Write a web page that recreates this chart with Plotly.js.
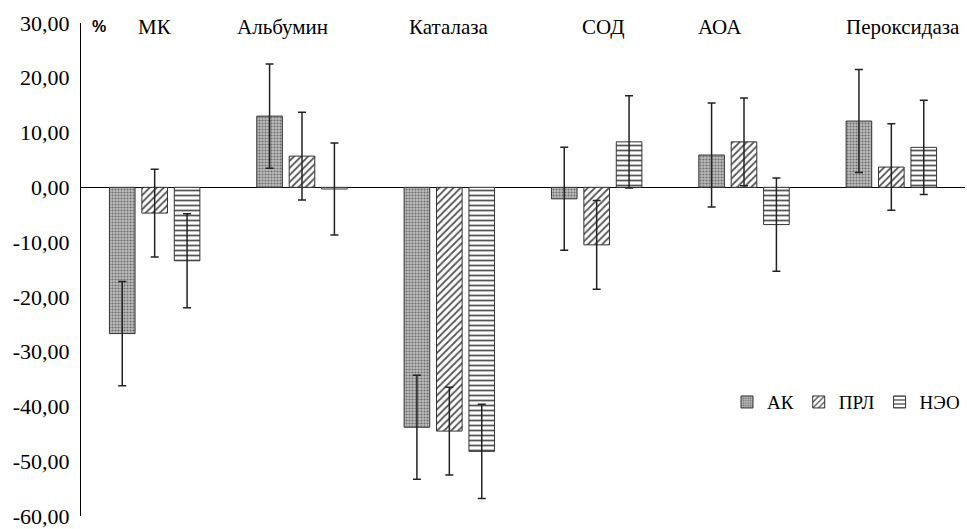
<!DOCTYPE html>
<html>
<head>
<meta charset="utf-8">
<script src="https://cdn.plot.ly/plotly-3.0.1.min.js"></script>
<style>html,body{margin:0;padding:0;background:#fff;}#chart{width:967px;height:529px;}</style>
</head>
<body>
<div id="chart"></div>
<script>
const categories = ['МК', 'Альбумин', 'Каталаза', 'СОД', 'АОА', 'Пероксидаза'];
const seriesNames = ['АК', 'ПРЛ', 'НЭО'];
const ak = [-26.7, 13.0, -43.8, -2.1, 5.9, 12.1];
const akErr = [9.5, 9.5, 9.5, 9.4, 9.5, 9.4];
const prl = [-4.7, 5.7, -44.5, -10.5, 8.3, 3.7];
const prlErr = [8.0, 8.0, 8.0, 8.1, 8.0, 7.9];
const neo = [-13.4, -0.3, -48.2, 8.3, -6.8, 7.3];
const neoErr = [8.6, 8.4, 8.6, 8.4, 8.5, 8.6];
const tickVals = [30, 20, 10, 0, -10, -20, -30, -40, -50, -60];
const tickLabels = ['30,00', '20,00', '10,00', '0,00', '-10,00', '-20,00', '-30,00', '-40,00', '-50,00', '-60,00'];
const labelShifts = [0, -20, 0, 6, -24, 12];

const serif = "'Liberation Serif', 'DejaVu Serif', serif";
const errStyle = (arr) => ({type: 'data', array: arr, visible: true, color: '#222', thickness: 1.5, width: 4});

const traces = [
  {type: 'bar', name: seriesNames[0], x: categories, y: ak, error_y: errStyle(akErr),
   marker: {color: '#b4b4b4', line: {color: '#333', width: 1},
            pattern: {shape: '.', fgcolor: '#6e6e6e', bgcolor: '#bdbdbd', size: 3, solidity: 0.4}}},
  {type: 'bar', name: seriesNames[1], x: categories, y: prl, error_y: errStyle(prlErr),
   marker: {color: '#ffffff', line: {color: '#333', width: 1},
            pattern: {shape: '/', fgcolor: '#555', bgcolor: '#ffffff', size: 5, solidity: 0.35}}},
  {type: 'bar', name: seriesNames[2], x: categories, y: neo, error_y: errStyle(neoErr),
   marker: {color: '#ffffff', line: {color: '#333', width: 1},
            pattern: {shape: '-', fgcolor: '#555', bgcolor: '#ffffff', size: 5, solidity: 0.35}}}
];

const annotations = categories.map((c, i) => ({
  x: c, xref: 'x', y: 0.992, yref: 'paper', yanchor: 'middle', xanchor: 'center',
  xshift: labelShifts[i], text: c, showarrow: false,
  font: {family: serif, size: 21, color: '#000'}
}));
annotations.push({
  x: 0, xref: 'paper', xanchor: 'left', xshift: 9, y: 0.992, yref: 'paper', yanchor: 'middle',
  text: '<b>%</b>', showarrow: false, font: {family: "'Liberation Sans', Arial, sans-serif", size: 16, color: '#000'}
});

const layout = {
  width: 967, height: 529,
  margin: {l: 81, r: 2, t: 23, b: 13, pad: 0},
  paper_bgcolor: '#fff', plot_bgcolor: '#fff',
  font: {family: serif, color: '#000'},
  barmode: 'group', bargap: 0.34, bargroupgap: 0.21,
  showlegend: true,
  legend: {orientation: 'h', x: 1, xanchor: 'right', y: 0.231, yanchor: 'middle',
           font: {family: serif, size: 19, color: '#000'}, bgcolor: 'rgba(0,0,0,0)', traceorder: 'normal'},
  xaxis: {type: 'category', showticklabels: false, showgrid: false, zeroline: false, showline: false, ticks: ''},
  yaxis: {range: [-60, 30], tickvals: tickVals, ticktext: tickLabels, showgrid: false,
          zeroline: true, zerolinecolor: '#000', zerolinewidth: 1.5,
          showline: true, linecolor: '#000', linewidth: 1, ticks: '', ticklabelstandoff: 6,
          tickfont: {family: serif, size: 22, color: '#000'}},
  annotations: annotations
};

Plotly.newPlot('chart', traces, layout, {displayModeBar: false, staticPlot: true});
</script>
</body>
</html>
